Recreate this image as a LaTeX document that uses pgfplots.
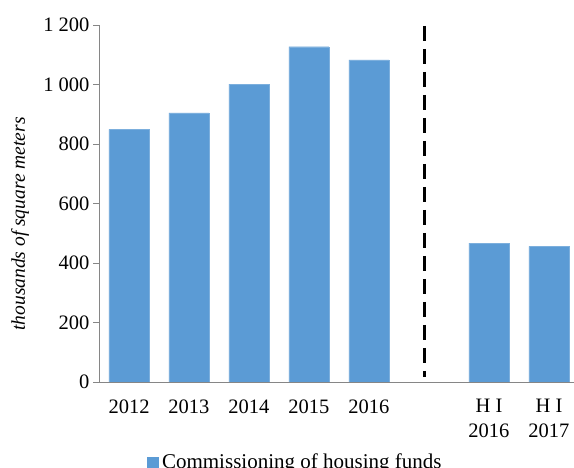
\documentclass[border=0pt]{standalone}
\usepackage{pgfplots}
\pgfplotsset{compat=1.18}
\usepackage{fontspec}
\setmainfont{Liberation Serif}
\definecolor{barblue}{HTML}{5B9BD5}
\definecolor{axgray}{HTML}{868686}
\begin{document}
\begin{tikzpicture}[font=\fontsize{20bp}{24bp}\selectfont]
\useasboundingbox (0,0) rectangle (574bp,468bp);
\begin{axis}[
  at={(99bp,86bp)}, anchor=south west,
  scale only axis, width=475bp, height=357bp,
  xmin=-0.5, xmax=7.417, ymin=0, ymax=1200,
  ytick={0,200,...,1200},
  xtick={0,1,2,3,4,6,7},
  xticklabels={2012,2013,2014,2015,2016,{H I\\2016},{H I\\2017}},
  x tick label style={align=center, anchor=north, yshift=-8bp},
  y tick label style={anchor=east},
  axis x line*=bottom, axis y line*=left,
  axis line style={axgray, line width=0.8bp},
  tick align=outside, major tick length=6bp,
  xtick style={draw=none},
  ytick style={axgray, line width=0.8bp},
  /pgf/number format/assume math mode=true,
  /pgf/number format/1000 sep={\ },
  tick label style={font=\fontsize{20.5bp}{25bp}\selectfont},
  ylabel={\textit{thousands of square meters}},
  ylabel style={at={(axis description cs:-0.1663,0.4426)}, anchor=center, font=\fontsize{19.5bp}{24bp}\selectfont},
  legend style={at={(axis description cs:0.101,-0.196)}, anchor=north west, draw=none, fill=none, inner sep=0pt, font=\fontsize{21bp}{24bp}\selectfont},
  legend image code/.code={\fill[barblue] (0bp,-6bp) rectangle (11bp,5bp);},
]
\addplot[ybar, bar width=40bp, fill=barblue, draw=barblue!80!white] coordinates {
  (0,849) (1,905) (2,1001) (3,1127) (4,1083) (6,467) (7,456)
};
\addlegendentry{\hspace{1.5bp}Commissioning of housing funds}
\addplot[black, line width=3bp, dash pattern=on 15bp off 8bp, no markers, forget plot] coordinates {(4.92,1197) (4.92,18)};
\end{axis}
\end{tikzpicture}
\end{document}
